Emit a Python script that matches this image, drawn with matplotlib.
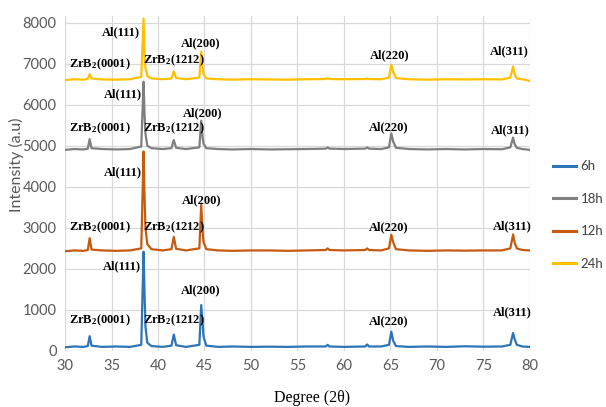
import matplotlib
matplotlib.use("Agg")
import matplotlib.pyplot as plt
from matplotlib.lines import Line2D

plt.rcParams['mathtext.fontset'] = 'custom'
plt.rcParams['mathtext.rm'] = 'Liberation Serif:bold'
plt.rcParams['mathtext.it'] = 'Liberation Serif:bold'
plt.rcParams['mathtext.bf'] = 'Liberation Serif:bold'

# 2-theta vertices shared by all patterns
two_theta = [30, 31, 32, 32.45, 32.65, 32.85, 34, 35.5, 37, 38.2, 38.45, 38.55, 38.65, 38.85,
             39.3, 40.5, 41.45, 41.7, 41.95, 43, 44.45, 44.65, 44.8, 44.9, 45.2, 46.5, 48, 50,
             52, 54, 56, 58.05, 58.25, 58.45, 60, 62.3, 62.5, 62.7, 64, 64.85, 65.1, 65.3, 65.6,
             67, 69, 71, 73, 75, 77, 77.9, 78.2, 78.35, 78.6, 79.2, 80]

int_6h = [90, 110, 100, 120, 360, 130, 100, 110, 100, 150, 2420, 1450, 600, 200,
          120, 100, 130, 400, 140, 100, 150, 1120, 680, 350, 130, 100, 110, 100,
          105, 100, 110, 110, 150, 110, 100, 110, 160, 110, 110, 150, 470, 250, 120,
          100, 110, 100, 115, 105, 110, 150, 440, 300, 150, 110, 100]

int_12h = [2430, 2450, 2440, 2460, 2750, 2470, 2450, 2440, 2450, 2500, 4860, 3800, 3000, 2600,
           2480, 2450, 2480, 2780, 2490, 2450, 2500, 3560, 2900, 2650, 2480, 2450, 2440, 2450,
           2450, 2440, 2450, 2460, 2500, 2460, 2450, 2460, 2500, 2460, 2450, 2500, 2830, 2650, 2480,
           2450, 2440, 2450, 2445, 2450, 2450, 2500, 2840, 2650, 2500, 2460, 2450]

int_18h = [4900, 4920, 4910, 4930, 5160, 4940, 4920, 4910, 4920, 4980, 6560, 5800, 5300, 5000,
           4940, 4920, 4940, 5140, 4950, 4920, 4960, 5610, 5200, 5050, 4940, 4920, 4910, 4920,
           4910, 4915, 4920, 4930, 4960, 4930, 4920, 4930, 4960, 4930, 4920, 4960, 5300, 5100, 4950,
           4920, 4910, 4920, 4910, 4920, 4915, 4960, 5200, 5050, 4950, 4920, 4900]

int_24h = [6600, 6620, 6610, 6630, 6740, 6640, 6615, 6610, 6620, 6680, 8100, 7200, 6900, 6700,
           6640, 6620, 6640, 6810, 6650, 6620, 6660, 7290, 6900, 6750, 6640, 6620, 6610, 6620,
           6615, 6610, 6620, 6625, 6650, 6625, 6620, 6625, 6640, 6625, 6620, 6660, 6970, 6800, 6650,
           6620, 6610, 6620, 6615, 6620, 6615, 6660, 6930, 6750, 6640, 6620, 6580]

series = ['6h', '18h', '12h', '24h']
colors = {'6h': '#2E75B6', '18h': '#7F7F7F', '12h': '#C55A11', '24h': '#FFC000'}
data = {'6h': int_6h, '18h': int_18h, '12h': int_12h, '24h': int_24h}

zr1 = r'ZrB$_2$(0001)'
zr2 = r'ZrB$_2$(1212)'
# peak labels: (text, x, y)
labels = [
    (zr1, 33.8, 6990), ('Al(111)', 36.0, 7770), (zr2, 41.7, 7090), ('Al(200)', 44.6, 7500),
    ('Al(220)', 64.9, 7210), ('Al(311)', 77.8, 7290),
    (zr1, 33.8, 5430), ('Al(111)', 36.2, 6260), (zr2, 41.7, 5430), ('Al(200)', 44.8, 5800),
    ('Al(220)', 64.8, 5460), ('Al(311)', 77.85, 5385),
    (zr1, 33.8, 3020), ('Al(111)', 36.2, 4360), (zr2, 41.7, 3020), ('Al(200)', 44.7, 3660),
    ('Al(220)', 64.8, 3020), ('Al(311)', 78.1, 3040),
    (zr1, 33.8, 755), ('Al(111)', 36.1, 2070), (zr2, 41.7, 755), ('Al(200)', 44.6, 1490),
    ('Al(220)', 64.8, 715), ('Al(311)', 78.1, 935),
]

fig = plt.figure(figsize=(6.06, 4.07), dpi=100)
ax = fig.add_axes([0.1073, 0.1376, 0.767, 0.822])

for s in ['6h', '12h', '18h', '24h']:
    ax.plot(two_theta, data[s], color=colors[s], lw=1.6, zorder=3)

for txt, x, y in labels:
    ax.text(x, y, txt, ha='center', va='center', fontsize=9,
            family='Liberation Serif', fontweight='bold', zorder=4)

ax.set_xlim(30, 80)
ax.set_ylim(0, 8150)
ax.set_xticks(range(30, 81, 5))
ax.set_yticks(range(0, 8001, 1000))
ax.grid(True, color='#D9D9D9', lw=0.9)
ax.set_axisbelow(True)
for sp in ax.spines.values():
    sp.set_visible(False)
ax.tick_params(length=0, labelsize=10.5, labelcolor='#595959', pad=6)
for lab in ax.get_xticklabels() + ax.get_yticklabels():
    lab.set_family('Lato')

fig.text(0.028, 0.595, 'Intensity (a.u)', rotation=90, ha='center', va='center',
         fontsize=11.5, color='#595959', family='Lato')
fig.text(0.515, 0.022, 'Degree (2\u03b8)', ha='center', va='center', fontsize=11.5,
         family='Liberation Serif')

handles = [Line2D([], [], color=colors[s], lw=2.2) for s in series]
fig.legend(handles, series, loc='center left', bbox_to_anchor=(0.912, 0.472), frameon=False,
           handlelength=1.8, labelspacing=1.55, prop={'family': 'Lato', 'size': 9.5},
           labelcolor='#404040', handletextpad=0.3, borderaxespad=0, borderpad=0)

fig.savefig('out.png', dpi=100)
